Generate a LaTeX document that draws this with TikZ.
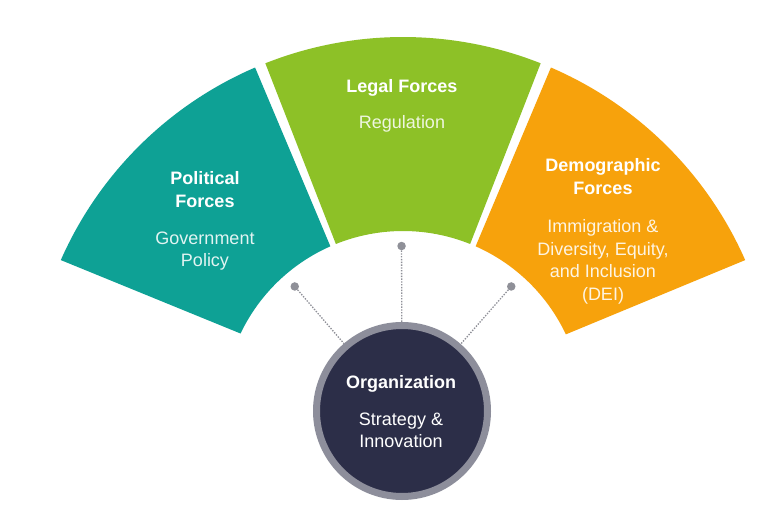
\documentclass[tikz,border=0pt]{standalone}
\usepackage{fontspec}
\setmainfont{Liberation Sans}
\usetikzlibrary{calc}
\definecolor{tealc}{HTML}{0EA195}
\definecolor{greenc}{HTML}{8DC127}
\definecolor{orangec}{HTML}{F7A20C}
\definecolor{darkc}{HTML}{2C2E48}
\definecolor{ringc}{HTML}{8D8E9B}
\definecolor{dotc}{HTML}{8F9098}
\tikzset{
  lbl/.style={text=white, align=center, inner sep=0pt, anchor=base,
    font=\fontsize{18}{22.5}\selectfont},
  dotnode/.style={circle, fill=dotc, inner sep=0pt, minimum size=8.5pt},
  conn/.style={dotc, line width=1.3pt, dash pattern=on 1.4pt off 1.4pt},
  orgnode/.style={circle, fill=darkc, draw=ringc, line width=7pt, inner sep=0pt, minimum size=171pt}
}
\begin{document}
\begin{tikzpicture}[x=1pt,y=1pt]
\useasboundingbox (0,0) rectangle (766,523);
\fill[white] (0,0) rectangle (766,523);
\coordinate (C) at (403,112);
% sectors
\fill[tealc] ($(C)+(156.2:374pt)$) arc[start angle=156.2, end angle=113.3, radius=374pt]
  -- ($(C)+(113.8:180pt)$) arc[start angle=113.8, end angle=154.5, radius=180pt] -- cycle;
\fill[greenc] ($(C)+(111.6:374pt)$) arc[start angle=111.6, end angle=68.4, radius=374pt]
  -- ($(C)+(68.1:180pt)$) arc[start angle=68.1, end angle=111.9, radius=180pt] -- cycle;
\fill[orangec] ($(C)+(66.7:374pt)$) arc[start angle=66.7, end angle=23.8, radius=374pt]
  -- ($(C)+(25.2:180pt)$) arc[start angle=25.2, end angle=66.2, radius=180pt] -- cycle;
% labels (anchor = baseline of last line)
\node[lbl] (pol) at (205,256.3) {\textbf{Political}\\\textbf{Forces}\\[14.5pt]{\color{white!88!tealc}Government}\\{\color{white!88!tealc}Policy}};
\node[lbl] (leg) at (402,394.7) {\textbf{Legal Forces}\\[13.5pt]{\color{white!85!greenc}Regulation}};
\node[lbl] (dem) at (603,222.8) {\textbf{Demographic}\\\textbf{Forces}\\[16pt]{\color{white!88!orangec}Immigration \&}\\{\color{white!88!orangec}Diversity, Equity,}\\{\color{white!88!orangec}and Inclusion}\\{\color{white!88!orangec}(DEI)}};
% organization
\node[orgnode] (org) at (402,112) {};
\node[lbl] (orgt) at (401,75.5) {\textbf{Organization}\\[14.5pt]Strategy \&\\Innovation};
% dots and connectors
\node[dotnode] (d1) at ($(C)+(131:165pt)$) {};
\node[dotnode] (d2) at ($(C)+(90.5:165pt)$) {};
\node[dotnode] (d3) at ($(C)+(49:165pt)$) {};
\draw[conn] (d1) -- (org);
\draw[conn] (d2) -- (org);
\draw[conn] (d3) -- (org);
\end{tikzpicture}
\end{document}
